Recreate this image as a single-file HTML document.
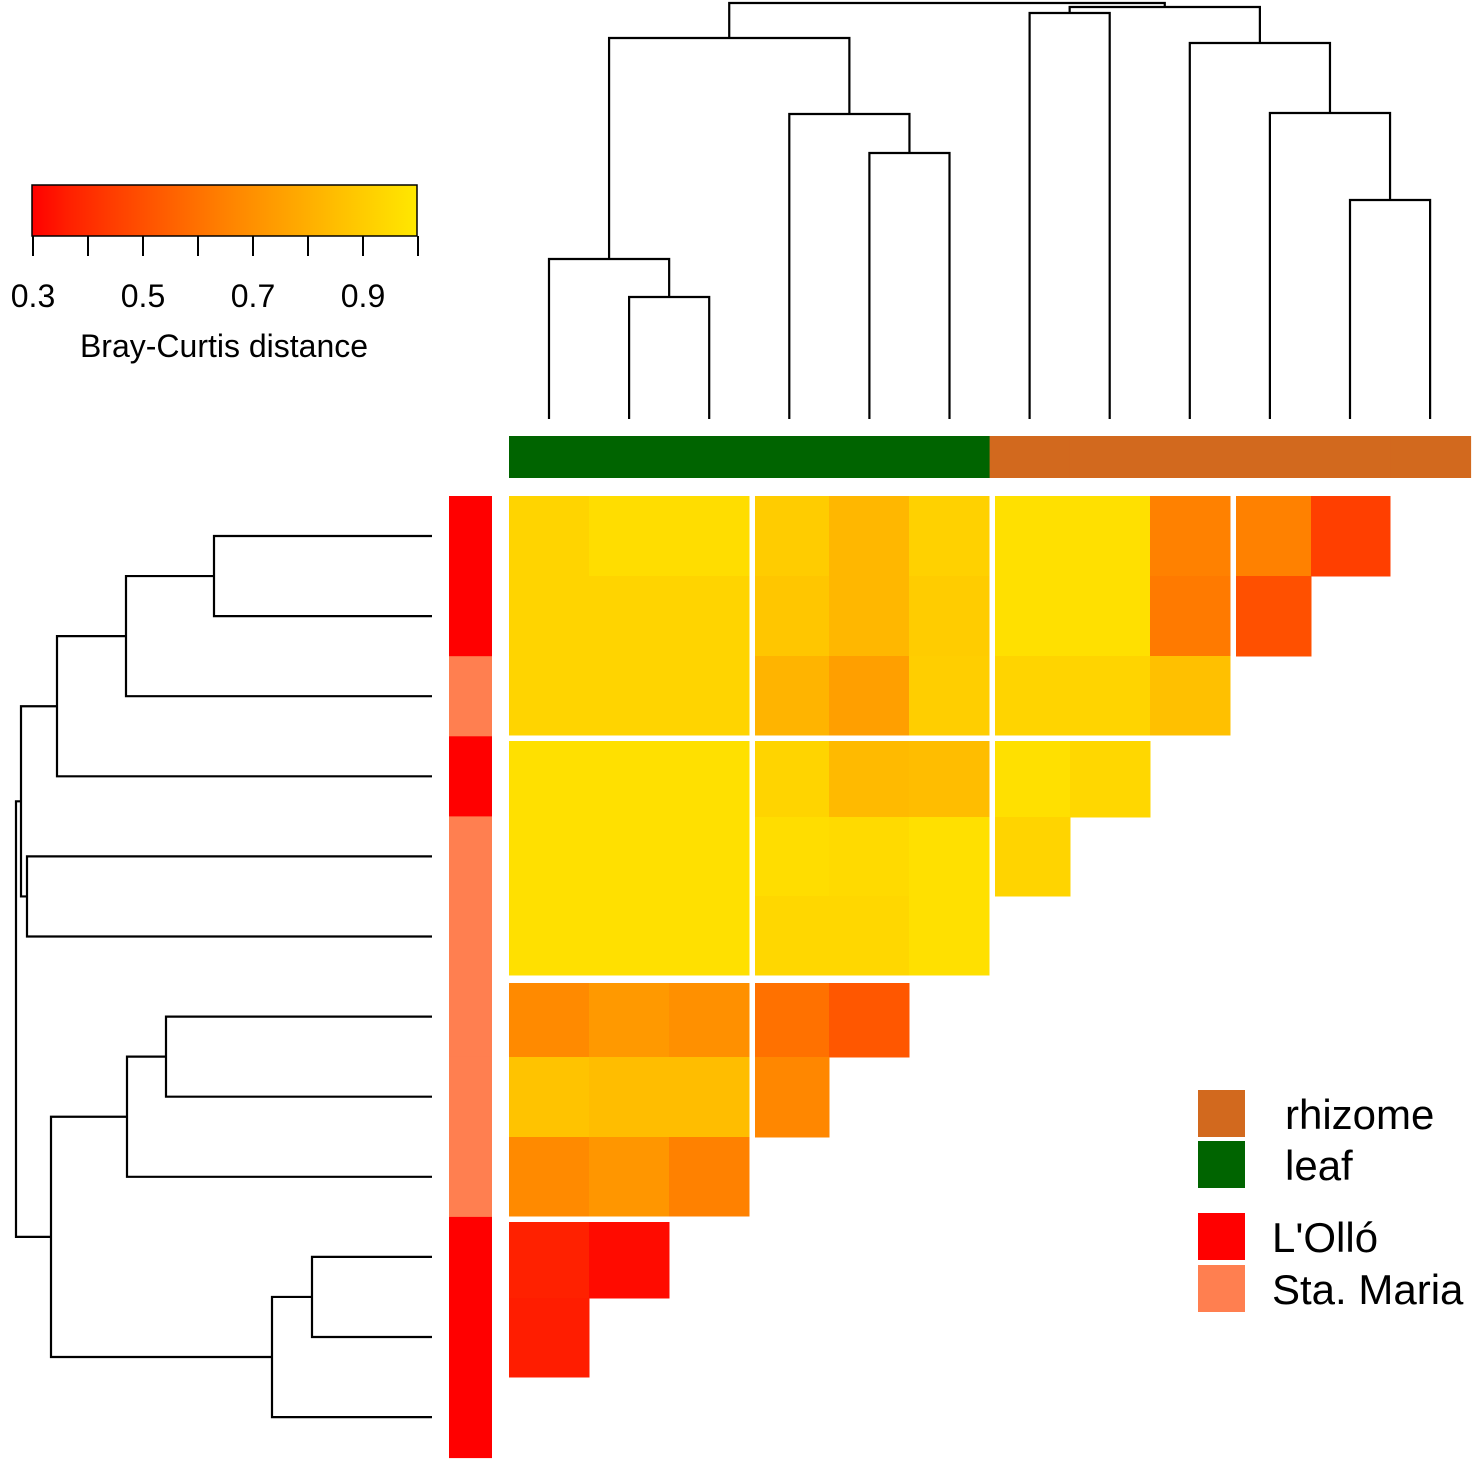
<!DOCTYPE html>
<html><head><meta charset="utf-8"><style>
html,body{margin:0;padding:0;background:#fff}
svg{display:block;font-family:"Liberation Sans",Arial,sans-serif}
</style></head><body>
<svg id="c" width="1476" height="1463" xmlns="http://www.w3.org/2000/svg"></svg>
<script>
const vals = [
 [0.93,0.96,0.96,0.90,0.83,0.92,0.97,0.97,0.65,0.65,0.45],
 [0.93,0.93,0.93,0.88,0.83,0.90,0.97,0.97,0.63,0.50],
 [0.93,0.93,0.93,0.82,0.75,0.91,0.93,0.93,0.86],
 [0.97,0.97,0.97,0.93,0.84,0.85,0.97,0.94],
 [0.97,0.97,0.97,0.96,0.95,0.97,0.93],
 [0.97,0.97,0.97,0.94,0.94,0.97],
 [0.68,0.73,0.70,0.60,0.52],
 [0.87,0.85,0.85,0.67],
 [0.68,0.72,0.65],
 [0.37,0.32],
 [0.36]
];
const rowGroups = ["L'Olló","L'Olló","Sta. Maria","L'Olló","Sta. Maria","Sta. Maria","Sta. Maria","Sta. Maria","Sta. Maria","L'Olló","L'Olló","L'Olló"];
const colGroups = ["leaf","leaf","leaf","leaf","leaf","leaf","rhizome","rhizome","rhizome","rhizome","rhizome","rhizome"];
const tickLabels = ["0.3","0.5","0.7","0.9"];
const tickVals = [0.3,0.4,0.5,0.6,0.7,0.8,0.9,1.0];
const topMerges = [[1,2,297],[0,12,259],[4,5,153],[3,14,114],[13,15,38],[10,11,200],[9,17,113],[8,18,43],[6,7,13],[20,19,7],[16,21,3]];
const leftMerges = [[0,1,214],[12,2,126],[13,3,57],[4,5,27],[14,15,21],[6,7,166],[17,8,127],[9,10,312],[19,11,272],[18,20,51],[16,21,16]];

const NS="http://www.w3.org/2000/svg", svg=document.getElementById('c');
function el(t,a,p){const e=document.createElementNS(NS,t);for(const k in a)e.setAttribute(k,a[k]);(p||svg).appendChild(e);return e;}
function color(v){let t=Math.max(0,Math.min(1,(v-0.3)/0.7));return `rgb(255,${Math.round(Math.pow(t,0.85)*232)},0)`;}
// layout: cell edges per block of 3
const XE=[[509,589,669,749],[755,829,909,989],[995,1070,1150,1230],[1236,1311,1390,1470]];
const YE=[[496,576,656,735],[741,817,896,975],[983,1057,1137,1216],[1222,1298,1377,1457]];
const cx0=i=>XE[Math.floor(i/3)][i%3], cx1=i=>XE[Math.floor(i/3)][i%3+1];
const cy0=i=>YE[Math.floor(i/3)][i%3], cy1=i=>YE[Math.floor(i/3)][i%3+1];
const center=i=>549+i*80.1;
const rcenter=i=>536+i*80.1;

const hm=el('g',{});

vals.forEach((row,r)=>row.forEach((v,c)=>{
 const e=el('rect',{x:cx0(c),y:cy0(r),width:cx1(c)-cx0(c)+0.5,height:cy1(r)-cy0(r)+0.5,fill:color(v)},hm);
 
 
}));

colGroups.forEach((g,i)=>{
 const e=el('rect',{x:509+i*80.1,y:436,width:81,height:42,fill:g==='leaf'?'#006400':'#d2691e'});
 
 
});
rowGroups.forEach((g,i)=>{
 const e=el('rect',{x:449,y:496+i*80.1,width:43,height:81,fill:g==="L'Olló"?'#ff0000':'#ff7f50'});
 
 
});

function dendro(merges,pos,leafEnd,vertical,name){
 const g=el('g',{stroke:'#000','stroke-width':2.2,fill:'none'});
 
 const P=[],H=[];
 for(let i=0;i<12;i++){P.push(pos(i));H.push(leafEnd);}
 merges.forEach(([a,b,h])=>{
  const pa=P[a],pb=P[b];
  const d=vertical?`M${pa},${H[a]}V${h}H${pb}V${H[b]}`:`M${H[a]},${pa}H${h}V${pb}H${H[b]}`;
  el('path',{d:d},g);
  P.push((pa+pb)/2);H.push(h);
 });
}
dendro(topMerges,center,419,true,'column-dendrogram');
dendro(leftMerges,rcenter,432,false,'row-dendrogram');

const defs=el('defs',{});
const lg=el('linearGradient',{id:'gr',x1:0,x2:1,y1:0,y2:0},defs);
for(let i=0;i<=10;i++){const v=0.3+i*0.07;el('stop',{offset:i/10,'stop-color':color(v)},lg);}
const cb=el('rect',{x:32,y:185,width:385,height:51,fill:'url(#gr)',stroke:'#000','stroke-width':1.5});

const sx=v=>33+(v-0.3)*550;
tickVals.forEach(v=>el('line',{x1:sx(v),x2:sx(v),y1:236,y2:256,stroke:'#000','stroke-width':2}));
tickLabels.forEach(t=>{const e=el('text',{x:sx(+t),y:307,'font-size':32,'text-anchor':'middle',fill:'#000'});e.textContent=t;
 });
const tt=el('text',{x:224,y:357,'font-size':32,'text-anchor':'middle'});tt.textContent='Bray-Curtis distance';


[["rhizome",'#d2691e',1090,1285],["leaf",'#006400',1141,1285],["L'Olló",'#ff0000',1213,1272],["Sta. Maria",'#ff7f50',1265,1272]].forEach(([t,c,y,tx])=>{
 const r=el('rect',{x:1198,y:y,width:47,height:47,fill:c});
 
 const e=el('text',{x:tx,y:y+39,'font-size':42});e.textContent=t;
 
});
</script>
</body></html>
